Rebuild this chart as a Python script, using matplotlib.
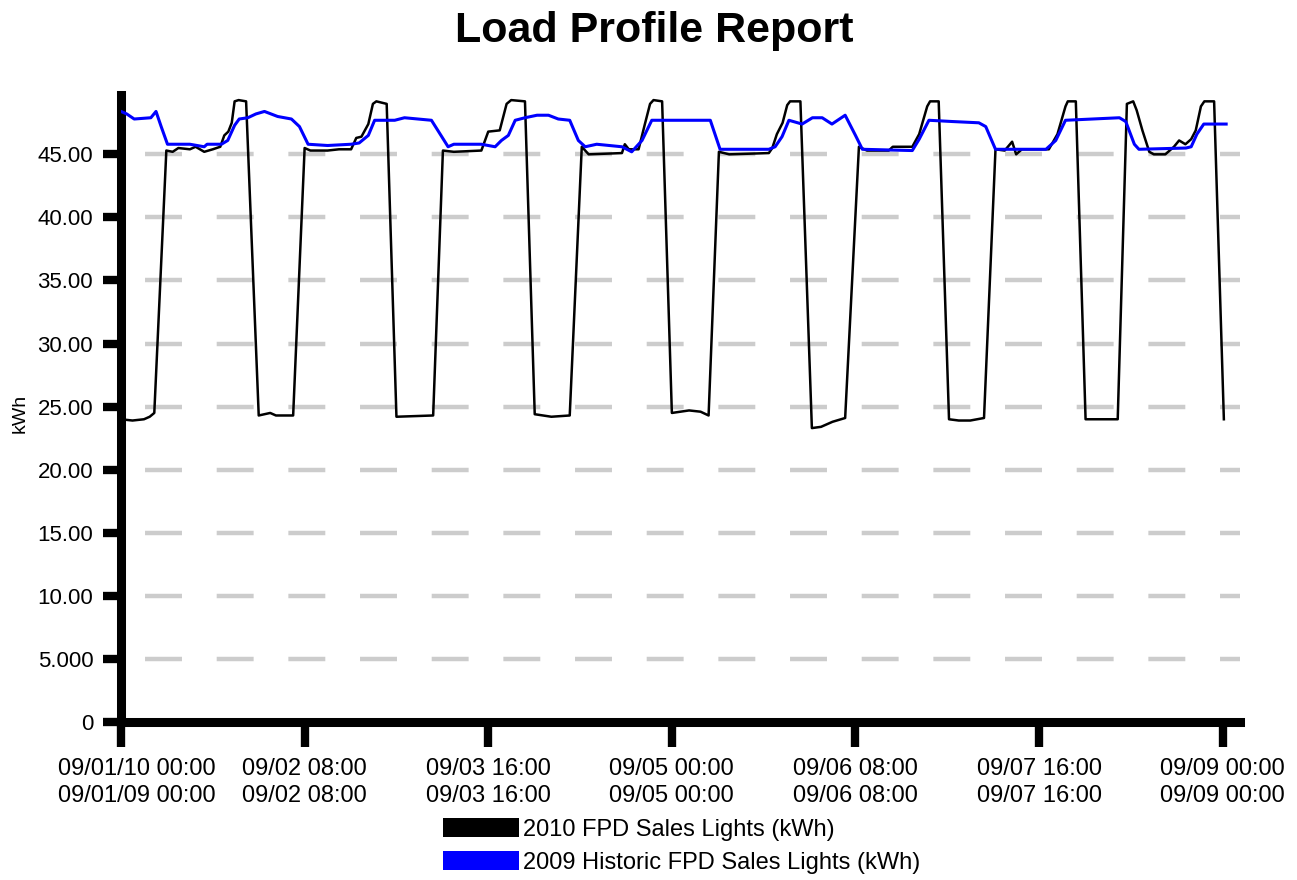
import matplotlib
matplotlib.use('Agg')
import matplotlib.pyplot as plt
import matplotlib.transforms as mtransforms
from matplotlib.patches import Patch

# hours since 09/01 00:00 and kWh readings
hours_2010 = [0, 2, 4, 5, 5.8, 7.9, 9, 10, 12, 13, 14.5, 16, 17.3, 18, 18.7, 19.3, 19.8, 20.5, 21.8,
              24.0, 26, 27, 30.0, 32.0, 33, 36, 38, 40.1, 41, 41.9, 43.1, 43.9, 44.5, 46.3,
              48.0, 54.4, 56.1, 58, 62.8, 64, 66, 67.2, 68, 70.4,
              72.1, 75, 78.2, 80.3, 81.5, 87.3, 87.8, 88.5, 90.2, 91.3, 92.2, 92.8, 94.3,
              96.0, 99, 101, 102.4, 104.2, 106, 112.9, 113.5, 114.3, 115.3, 116.1, 116.6, 118.4,
              120.4, 122, 124, 126.2, 128.6, 130, 133.8, 134.5, 137.9, 139.1, 140.5, 141, 142.5,
              144.3, 146, 148, 150.4, 152.4, 154, 155.3, 156, 157, 161.7, 163.2, 164.6, 165, 166.4,
              168.1, 173.7, 175.3, 176.4, 177, 178, 179.2, 180, 182, 183.5, 184.4, 185.5, 186.5,
              187.3, 188.2, 188.8, 190.5, 192.2]
kwh_2010 = [24.0, 23.9, 24.0, 24.2, 24.5, 45.3, 45.2, 45.5, 45.4, 45.6, 45.2, 45.4, 45.6, 46.5, 46.8, 47.5, 49.2, 49.3, 49.2,
            24.3, 24.5, 24.3, 24.3, 45.5, 45.3, 45.3, 45.4, 45.4, 46.3, 46.4, 47.4, 49.0, 49.2, 49.0,
            24.2, 24.3, 45.3, 45.2, 45.3, 46.8, 46.9, 49.0, 49.3, 49.2,
            24.4, 24.2, 24.3, 45.6, 45.0, 45.1, 45.8, 45.4, 45.4, 47.4, 49.0, 49.3, 49.2,
            24.5, 24.7, 24.6, 24.3, 45.2, 45.0, 45.1, 45.5, 46.6, 47.5, 48.9, 49.2, 49.2,
            23.3, 23.4, 23.8, 24.1, 45.6, 45.3, 45.3, 45.6, 45.6, 46.6, 48.8, 49.2, 49.2,
            24.0, 23.9, 23.9, 24.1, 45.4, 45.3, 46.0, 45.0, 45.4, 45.4, 46.6, 48.8, 49.2, 49.2,
            24.0, 24.0, 49.0, 49.2, 48.5, 46.9, 45.2, 45.0, 45.0, 45.6, 46.1, 45.8, 46.2,
            46.9, 48.8, 49.2, 49.2, 24.0]

hours_2009 = [0, 1, 2.3, 5.2, 6.1, 7, 8.1, 9.9, 12, 14.5, 15, 17.5, 18.6, 19.8, 20.6, 22.1, 23.5,
              25, 27.3, 29.7, 31.1, 32.6, 36, 40.1, 41.5, 43.1, 44.2, 47.7, 49.4, 54.1, 55.9, 57, 58,
              62.8, 65.2, 66.3, 67.5, 68.7, 70.4, 72.5, 74.5, 76.2, 78.2, 79.7, 80.9, 82.9, 87.3, 89,
              90.8, 92.5, 102.7, 104.4, 112.9, 114, 115.2, 116.4, 118.7, 120.5, 122.2, 123.9, 126.2,
              128, 129.2, 137.9, 139.1, 140.8, 144.9, 149.5, 150.7, 152.4, 161.2, 162.9, 164.6,
              169.3, 174, 175.1, 176.6, 177.4, 185.6, 186.5, 187.5, 188.7, 192.6]
kwh_2009 = [48.4, 48.2, 47.8, 47.9, 48.4, 47.2, 45.8, 45.8, 45.8, 45.6, 45.8, 45.8, 46.1, 47.3, 47.8, 47.9, 48.2,
            48.4, 48.0, 47.8, 47.2, 45.8, 45.7, 45.8, 45.9, 46.5, 47.7, 47.7, 47.9, 47.7, 46.4, 45.6, 45.8,
            45.8, 45.6, 46.1, 46.5, 47.7, 47.9, 48.1, 48.1, 47.8, 47.7, 46.1, 45.6, 45.8, 45.6, 45.2,
            46.1, 47.7, 47.7, 45.4, 45.4, 45.6, 46.4, 47.7, 47.4, 47.9, 47.9, 47.4, 48.1,
            46.5, 45.4, 45.3, 46.2, 47.7, 47.6, 47.5, 47.2, 45.4, 45.4, 46.1, 47.7,
            47.8, 47.9, 47.6, 45.8, 45.4, 45.5, 45.6, 46.6, 47.4, 47.4]

x_ticks = [0, 32, 64, 96, 128, 160, 192]
x_tick_labels = ['09/01/10 00:00\n09/01/09 00:00', '09/02 08:00\n09/02 08:00',
                 '09/03 16:00\n09/03 16:00', '09/05 00:00\n09/05 00:00',
                 '09/06 08:00\n09/06 08:00', '09/07 16:00\n09/07 16:00',
                 '09/09 00:00\n09/09 00:00']
y_ticks = [0, 5, 10, 15, 20, 25, 30, 35, 40, 45]
y_tick_labels = ['0', '5.000', '10.00', '15.00', '20.00', '25.00', '30.00', '35.00', '40.00', '45.00']

label_2010 = '2010 FPD Sales Lights (kWh)'
label_2009 = '2009 Historic FPD Sales Lights (kWh)'


def plot_report():
    plt.rcParams['font.family'] = ['Liberation Sans', 'DejaVu Sans']
    plt.rcParams['lines.scale_dashes'] = False

    fig = plt.figure(figsize=(12.97, 8.8), dpi=100)
    ax = fig.add_axes([0.0933, 0.1795, 0.8627, 0.7125])

    ax.plot(hours_2010, kwh_2010, color='black', lw=1.8, zorder=3)
    ax.plot(hours_2009, kwh_2009, color='#0000ff', lw=2.2, zorder=4)

    ax.set_xlim(0, 195)
    ax.set_ylim(0, 49.7)

    # dashed grey guide lines
    ax.set_axisbelow(True)
    ax.yaxis.grid(True, color='#cccccc', linewidth=3.2, linestyle=(34.3, (26.6, 25.0)))
    ax.xaxis.grid(False)

    ax.set_xticks(x_ticks)
    ax.set_xticklabels(x_tick_labels, fontsize=17, linespacing=1.3)
    ax.set_yticks(y_ticks)
    ax.set_yticklabels(y_tick_labels, fontsize=16)
    ax.tick_params(axis='x', length=18, width=6, pad=8, direction='out')
    ax.tick_params(axis='y', length=13, width=6, pad=7, direction='out')

    # first date label sits a bit right of its tick in the report
    first = ax.get_xticklabels()[0]
    first.set_transform(first.get_transform() + mtransforms.ScaledTranslation(16 / 100, 0, fig.dpi_scale_trans))

    for side in ['top', 'right']:
        ax.spines[side].set_visible(False)
    for side in ['left', 'bottom']:
        ax.spines[side].set_linewidth(6.5)
        ax.spines[side].set_capstyle('projecting')

    fig.text(20 / 1297, 1 - 413 / 880, 'kWh', rotation=90, fontsize=14, ha='center', va='center')
    fig.text(654 / 1297, 1 - 31 / 880, 'Load Profile Report', fontsize=31, fontweight='bold',
             ha='center', va='center')

    handles = [Patch(facecolor='black', edgecolor='none'), Patch(facecolor='#0000ff', edgecolor='none')]
    fig.legend(handles, [label_2010, label_2009], loc='upper left',
               bbox_to_anchor=(443 / 1297, 1 - 818 / 880), frameon=False, fontsize=17,
               handlelength=3.2, handleheight=0.85, handletextpad=0.2, labelspacing=0.45,
               borderpad=0, borderaxespad=0)

    fig.savefig('out.png', dpi=100)


if __name__ == '__main__':
    plot_report()
